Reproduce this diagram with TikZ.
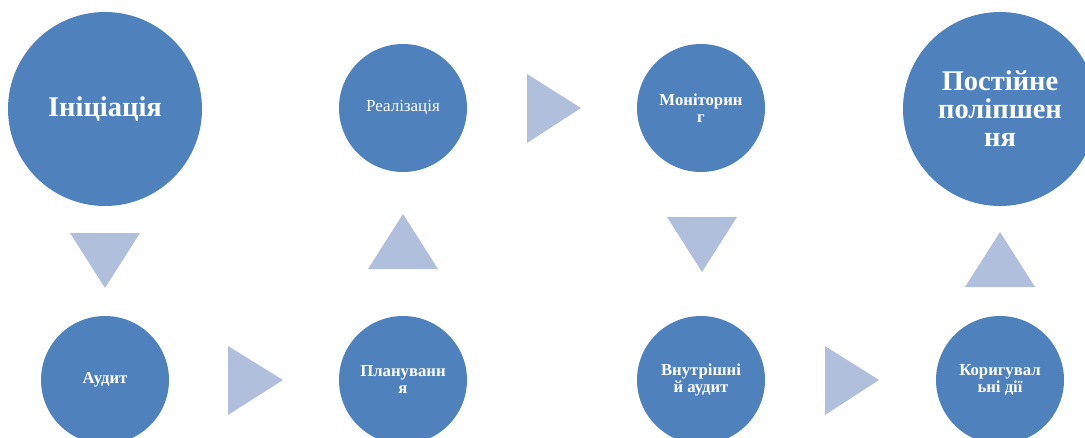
\documentclass[tikz,border=0pt]{standalone}
\usepackage{fontspec}
\setmainfont{Liberation Serif}
\usetikzlibrary{positioning}

\definecolor{stageblue}{HTML}{4F81BD}
\definecolor{arrowblue}{HTML}{B0C0DC}

\begin{document}
\begin{tikzpicture}[x=1pt, y=-1pt,
    bigstage/.style={circle, fill=stageblue, text=white, minimum size=194pt, inner sep=0pt, align=center,
      font=\bfseries\fontsize{28.5}{28}\selectfont},
    smallstage/.style={circle, fill=stageblue, text=white, minimum size=128pt, inner sep=0pt, align=center,
      font=\bfseries\fontsize{16.7}{17}\selectfont},
    tri/.style={fill=arrowblue}]
    \useasboundingbox (0,0) rectangle (1085,437);
    \clip (0,0) rectangle (1085,437);

    % top row
    \node[bigstage] (init) at (105,109) {Ініціація};
    \node[smallstage, font=\fontsize{17}{17}\selectfont] (real) at (403,108) {Реалізація};
    \node[smallstage] (monit) at (701,108) {Моніторин\\г};
    \node[bigstage] (impr) at (1000,109) {Постійне\\поліпшен\\ня};

    % bottom row
    \node[smallstage] (audit) at (105,380) {Аудит};
    \node[smallstage] (plan) at (403,380) {Плануванн\\я};
    \node[smallstage] (inaudit) at (701,380) {Внутрішні\\й аудит};
    \node[smallstage] (correct) at (1000,380) {Коригувал\\ьні дії};

    % arrows
    \fill[tri] (70,233) -- (140,233) -- (105,288) -- cycle;
    \fill[tri] (368,269) -- (438,269) -- (403,214) -- cycle;
    \fill[tri] (527,74) -- (527,143) -- (581,108) -- cycle;
    \fill[tri] (667,217) -- (737,217) -- (702,272) -- cycle;
    \fill[tri] (965,287) -- (1035,287) -- (1000,232) -- cycle;
    \fill[tri] (228,346) -- (228,415) -- (283,380) -- cycle;
    \fill[tri] (825,346) -- (825,415) -- (879,380) -- cycle;
\end{tikzpicture}
\end{document}
